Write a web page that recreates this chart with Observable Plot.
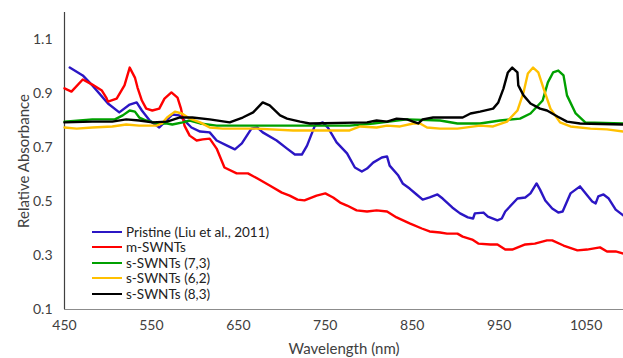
<!DOCTYPE html>
<html>
<head>
<meta charset="utf-8">
<script src="https://cdn.jsdelivr.net/npm/d3@7"></script>
<script src="https://cdn.jsdelivr.net/npm/@observablehq/plot@0.6"></script>
<style>
  html, body { margin: 0; padding: 0; background: #fff; }
  #wrap { position: relative; width: 623px; height: 358px; font-family: Lato, "Open Sans", sans-serif; }
  #legend { position: absolute; left: 92px; top: 224px; font-size: 13.5px; color: #222; }
  #legend .row { display: flex; align-items: center; height: 15.5px; }
  #legend .sw { width: 30px; height: 0; border-top: 2.5px solid; margin-right: 4px; }
  svg g[aria-label="y-axis label"] text, svg g[aria-label="x-axis label"] text { font-size: 15px; fill: #262626; }
</style>
</head>
<body>
<div id="wrap"><div id="legend"></div></div>
<script>
const seriesNames = ["Pristine (Liu et al., 2011)", "m-SWNTs", "s-SWNTs (7,3)", "s-SWNTs (6,2)", "s-SWNTs (8,3)"];
const seriesColors = ["#2b16c4", "#ff0000", "#00a000", "#ffc000", "#000000"];
const xTicks = [450, 550, 650, 750, 850, 950, 1050];
const yTicks = [0.1, 0.3, 0.5, 0.7, 0.9, 1.1];

const pristineWl = [456,471,482,500,513,525,533,539,548,559,574,582,596,606,617,625,637,646,654,665,672,678,694,706,715,723,729,738,747,753,763,775,784,792,798,805,815,821,824,834,839,847,855,862,870,879,885,896,905,914,920,922,932,937,948,953,957,971,980,986,993,997,1003,1011,1018,1023,1032,1043,1057,1061,1064,1070,1076,1084,1093];
const pristineAbs = [0.996,0.967,0.930,0.863,0.830,0.859,0.867,0.837,0.800,0.774,0.822,0.819,0.774,0.759,0.756,0.726,0.707,0.693,0.715,0.770,0.774,0.756,0.726,0.696,0.674,0.674,0.707,0.781,0.793,0.774,0.719,0.678,0.626,0.611,0.622,0.644,0.663,0.667,0.633,0.596,0.567,0.548,0.526,0.507,0.515,0.526,0.511,0.478,0.456,0.441,0.437,0.456,0.459,0.444,0.430,0.437,0.463,0.511,0.515,0.530,0.567,0.544,0.504,0.474,0.459,0.463,0.530,0.556,0.500,0.493,0.519,0.526,0.511,0.470,0.448];

const mWl = [450,458,471,482,493,498,500,510,519,525,531,534,539,544,551,559,565,573,580,584,588,594,602,609,617,625,634,648,661,672,686,700,709,718,726,740,750,759,767,775,786,798,809,821,832,847,861,870,882,890,902,908,919,926,940,948,957,965,980,991,1005,1011,1024,1040,1051,1066,1074,1084,1093];
const mAbs = [0.919,0.907,0.952,0.933,0.911,0.885,0.870,0.881,0.930,0.996,0.959,0.922,0.874,0.844,0.837,0.844,0.881,0.904,0.885,0.844,0.781,0.744,0.726,0.730,0.733,0.696,0.626,0.604,0.604,0.585,0.559,0.533,0.522,0.507,0.504,0.522,0.530,0.515,0.496,0.485,0.467,0.463,0.467,0.463,0.441,0.419,0.400,0.389,0.385,0.381,0.381,0.370,0.359,0.344,0.341,0.341,0.322,0.322,0.341,0.344,0.356,0.356,0.337,0.319,0.322,0.330,0.315,0.315,0.307];

const s73Wl = [450,482,508,517,525,531,536,544,556,568,574,586,594,606,625,680,730,778,805,844,882,902,928,951,974,986,1000,1006,1012,1018,1024,1028,1038,1049,1093];
const s73Abs = [0.796,0.804,0.804,0.819,0.837,0.833,0.811,0.800,0.789,0.789,0.785,0.793,0.800,0.789,0.781,0.781,0.781,0.781,0.789,0.804,0.800,0.789,0.789,0.800,0.807,0.826,0.874,0.941,0.978,0.985,0.967,0.893,0.826,0.793,0.789];

const s62Wl = [450,464,482,505,521,536,556,562,568,577,585,594,606,617,632,671,713,778,790,809,821,836,851,859,867,882,902,928,943,959,971,978,983,989,995,1001,1009,1020,1032,1055,1074,1093];
const s62Abs = [0.774,0.770,0.774,0.778,0.785,0.781,0.781,0.789,0.811,0.833,0.826,0.807,0.793,0.774,0.770,0.770,0.763,0.763,0.778,0.774,0.781,0.778,0.789,0.789,0.774,0.770,0.770,0.781,0.778,0.796,0.837,0.904,0.974,0.996,0.978,0.919,0.844,0.793,0.778,0.770,0.767,0.759];

const s83Wl = [450,482,505,521,536,551,568,582,597,617,640,655,667,678,686,698,706,721,732,798,809,821,832,844,851,857,862,874,908,917,928,943,949,955,960,965,971,972,978,986,997,1005,1017,1028,1043,1093];
const s83Abs = [0.793,0.796,0.796,0.804,0.800,0.793,0.796,0.811,0.811,0.804,0.793,0.811,0.830,0.867,0.856,0.819,0.807,0.796,0.789,0.793,0.800,0.796,0.807,0.804,0.796,0.789,0.804,0.811,0.811,0.826,0.833,0.844,0.867,0.919,0.978,0.996,0.978,0.930,0.893,0.863,0.844,0.837,0.815,0.796,0.789,0.785];

const wls = [pristineWl, mWl, s73Wl, s62Wl, s83Wl];
const abss = [pristineAbs, mAbs, s73Abs, s62Abs, s83Abs];
const rows = [];
seriesNames.forEach((name, i) => {
  wls[i].forEach((w, j) => rows.push({series: name, wl: w, abs: abss[i][j]}));
});

const chart = Plot.plot({
  width: 623,
  height: 358,
  marginLeft: 64,
  marginRight: 0,
  marginTop: 12,
  marginBottom: 49,
  style: {fontFamily: 'Lato, "Open Sans", sans-serif', fontSize: "14px", color: "#404040", background: "#fff"},
  x: {domain: [450, 1093], range: [64, 623]},
  y: {domain: [0.1, 1.2], range: [309, 12]},
  color: {domain: seriesNames, range: seriesColors},
  marks: [
    Plot.axisY({ticks: yTicks, tickSize: 0, tickPadding: 12, tickFormat: d3.format(".1f"), fontSize: 14, label: null}),
    Plot.axisY({ticks: [], tickSize: 0, label: "Relative Absorbance", labelAnchor: "center", labelOffset: 46, labelArrow: "none", fontSize: 15, ariaLabel: "y-axis label"}),
    Plot.axisX({ticks: xTicks, tickSize: 0, tickPadding: 11, tickFormat: d => String(d), fontSize: 14, label: null}),
    Plot.axisX({ticks: [], tickSize: 0, label: "Wavelength (nm)", labelAnchor: "center", labelOffset: 44, labelArrow: "none", fontSize: 15, ariaLabel: "x-axis label"}),
    Plot.ruleY([0.1], {stroke: "#8c8c8c", strokeWidth: 1.2}),
    Plot.ruleX([450], {stroke: "#404040", strokeWidth: 1.2}),
    Plot.line(rows, {x: "wl", y: "abs", z: "series", stroke: "series", strokeWidth: 2.4, strokeLinejoin: "round", curve: "linear"})
  ]
});
const wrap = document.getElementById("wrap");
wrap.insertBefore(chart, wrap.firstChild);

const legend = document.getElementById("legend");
seriesNames.forEach((n, i) => {
  const r = document.createElement("div");
  r.className = "row";
  const s = document.createElement("span");
  s.className = "sw";
  s.style.borderTopColor = seriesColors[i];
  const t = document.createElement("span");
  t.textContent = n;
  r.appendChild(s); r.appendChild(t);
  legend.appendChild(r);
});
</script>
</body>
</html>
